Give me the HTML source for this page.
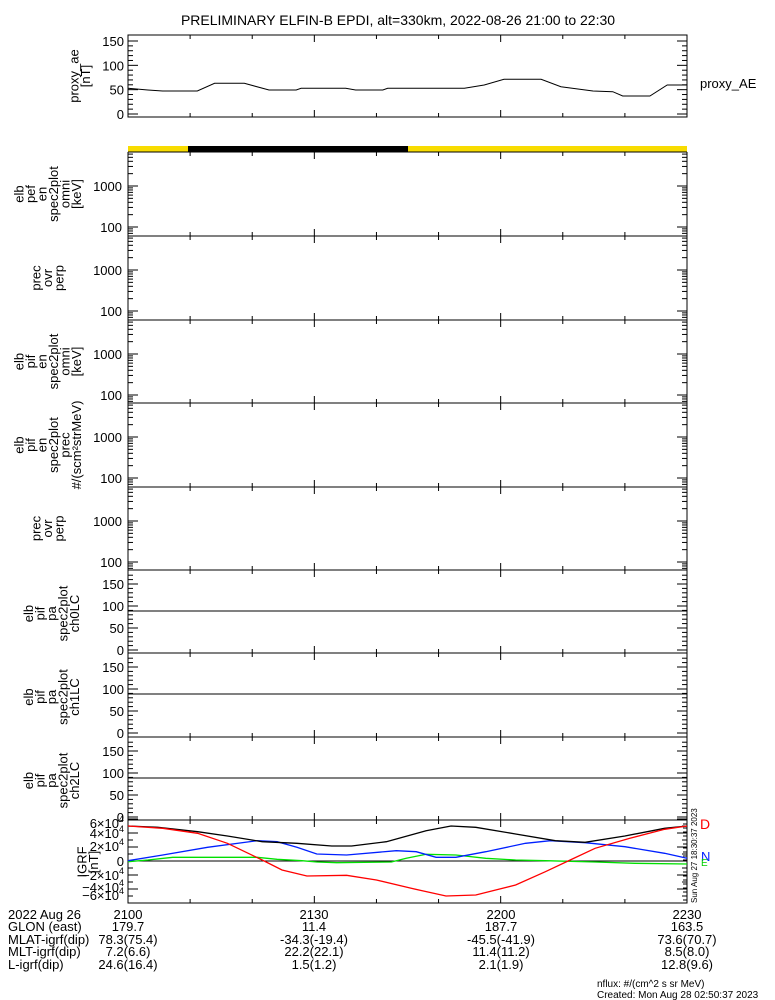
<!DOCTYPE html>
<html><head><meta charset="utf-8"><style>
body{margin:0;background:#fff;width:775px;height:1000px;overflow:hidden}
svg{display:block}
text{font-family:"Liberation Sans",sans-serif;fill:#000}
</style></head><body>
<svg id="s" width="775" height="1000" viewBox="0 0 775 1000" xmlns="http://www.w3.org/2000/svg"></svg>
<script>
const S=document.getElementById('s');let h='';
const L=128,R=687,W=R-L;
function ln(x1,y1,x2,y2,c,w){h+=`<line x1="${x1}" y1="${y1}" x2="${x2}" y2="${y2}" stroke="${c||'#000'}" stroke-width="${w||1}"/>`;}
function tx(x,y,t,sz,anc,extra){h+=`<text x="${x}" y="${y}" font-size="${sz||13}" text-anchor="${anc||'start'}" ${extra||''}>${t}</text>`;}
function box(t,b){h+=`<rect x="${L}" y="${t}" width="${W}" height="${b-t}" fill="none" stroke="#000"/>`;}
function xticks(t,b){for(let i=1;i<9;i++){const x=L+W*i/9;const len=(i%3==0)?7:4;ln(x,b,x,b-len);ln(x,t,x,t+len);}}
function ylab(lines,cx,cy){
  const n=lines.length;const sp=11.5;
  lines.forEach((s,i)=>{const x=cx-(n-1)*sp/2+i*sp+4;h+=`<text x="${x}" y="${cy}" font-size="13" text-anchor="middle" transform="rotate(-90 ${x} ${cy})">${s}</text>`;});
}
tx(398,25,'PRELIMINARY ELFIN-B EPDI, alt=330km, 2022-08-26 21:00 to 22:30',14,'middle');
const T0=35,B0=117;box(T0,B0);
const yv=v=>114-v*73/150;
for(let v=0;v<=150;v+=10){const y=yv(v);const len=v%50==0?10:5;ln(L,y,L+len,y);ln(R,y,R-len,y);}
[0,50,100,150].forEach(v=>tx(124,yv(v)+5,v,13,'end'));
xticks(T0,B0);
ylab(['proxy_ae','[nT]'],80,76);
tx(700,88,'proxy_AE',13);
const ae=[[260,265],[300,270],[330,273],[400,273],[435,250],[495,250],[545,270],[600,270],[610,265],[700,265],[720,270],[775,270],[785,265],[940,265],[980,255],[1020,238],[1095,238],[1135,260],[1200,273],[1240,275],[1260,288],[1315,288],[1350,255],[1390,255]];
h+=`<polyline fill="none" stroke="#000" points="${ae.map(p=>(L+(p[0]-260)/1130*W).toFixed(1)+','+(p[1]/3).toFixed(1)).join(' ')}"/>`;
h+=`<rect x="${L}" y="146" width="${W}" height="6" fill="#f8dc00"/><rect x="188" y="146" width="220" height="6" fill="#000"/>`;
const sp=[152,236,320,403,487,570];
const labs=[['elb','pef','en','spec2plot','omni','[keV]'],['prec','ovr','perp'],['elb','pif','en','spec2plot','omni','[keV]'],['elb','pif','en','spec2plot','prec','#/(scm²strMeV)'],['prec','ovr','perp']];
for(let k=0;k<5;k++){const t=sp[k],b=sp[k+1];ln(L,b,R,b);ln(L,t,L,b);ln(R,t,R,b);
  const y100=t+75,dec=41;
  for(let d=1;d<=4;d++)for(let m=1;m<10;m++){const v=Math.pow(10,d)*m;const y=y100-(Math.log10(v)-2)*dec;if(y<t||y>b)continue;const len=m==1?10:5;ln(L,y,L+len,y);ln(R,y,R-len,y);}
  tx(122,y100+5,'100',13,'end');tx(122,y100-dec+5,'1000',13,'end');
  xticks(t,b);ylab(labs[k],48,(t+b)/2);}
ln(L,152,R,152);
const pg=[570,653,737,820];
for(let k=0;k<3;k++){const t=pg[k],b=pg[k+1];ln(L,t,L,b);ln(R,t,R,b);ln(L,b,R,b);ln(L,t+41,R,t+41);
  for(let v=0;v<=170;v+=10){const y=t+80-v*0.44;if(y<t)continue;const len=v%50==0?10:5;ln(L,y,L+len,y);ln(R,y,R-len,y);}
  [0,50,100,150].forEach(v=>tx(124,t+85-v*0.44,v,13,'end'));
  xticks(t,b);ylab(['elb','pif','pa','spec2plot','ch'+k+'LC'],52,(t+b)/2+2);}
const T=820,B=903;box(T,B);const z=861,s=7;
ln(L,z,R,z);
for(let v=-6;v<=6;v+=1){const y=z-v*s;const len=v%2==0?10:5;ln(L,y,L+len,y);ln(R,y,R-len,y);}
for(let y=T;y<=B;y+=4){ln(R,y,R-4,y);}
[[6,828],[4,838],[2,851],[0,866],[-2,880],[-4,892],[-6,900]].forEach(([v,y])=>{if(v==0)tx(124,y,'0',13,'end');else h+=`<text x="124" y="${y}" font-size="13" text-anchor="end">${v<0?'−':''}${Math.abs(v)}×10<tspan font-size="9" dy="-6">4</tspan></text>`;});
xticks(T,B);ylab(['IGRF','[nT]'],88,862);
function curve(pts,c){h+=`<polyline fill="none" stroke="${c}" stroke-width="1.3" points="${pts.map(p=>(L+(p[0]-260)/1125*W).toFixed(1)+','+(810+p[1]/3).toFixed(1)).join(' ')}"/>`;}
curve([[260,155],[300,150],[350,142],[520,142],[560,148],[610,152],[640,156],[680,158],[790,156],[820,145],[860,133],[920,135],[980,145],[1040,150],[1100,152],[1200,156],[1280,160],[1385,162]],'#00e000');
curve([[260,152],[330,135],[420,112],[520,92],[560,95],[600,112],[640,132],[700,135],[800,122],[840,125],[880,142],[920,142],[980,125],[1060,100],[1110,92],[1180,98],[1260,110],[1340,130],[1385,145]],'#0020ff');
curve([[260,48],[320,52],[400,65],[460,78],[530,95],[600,100],[670,108],[710,108],[780,95],[860,62],[910,48],[960,52],[1040,72],[1120,92],[1180,97],[1260,78],[1340,55],[1385,48]],'#000');
curve([[260,48],[330,55],[400,70],[460,100],[530,150],[570,180],[620,198],[700,196],[760,210],[830,235],[900,258],[960,255],[1040,225],[1100,185],[1150,150],[1200,115],[1270,85],[1340,58],[1385,48]],'#ff0000');
h+=`<text x="697" y="903" font-size="8" transform="rotate(-90 697 903)" font-family="Liberation Mono">Sun Aug 27 18:30:37 2023</text>`;
h+=`<text x="700" y="829" font-size="14" style="fill:#f00" font-family="Liberation Serif">D</text>`;
h+=`<text x="701" y="861" font-size="13" style="fill:#0020ff" font-family="Liberation Serif">N</text>`;
h+=`<text x="701" y="866" font-size="10" style="fill:#00d000" font-family="Liberation Serif">E</text>`;
const rows=[919,931,944,956,969];
tx(8,rows[0],'2022 Aug 26',13);tx(8,rows[1],'GLON (east)',13);tx(8,rows[2],'MLAT-igrf(dip)',13);tx(8,rows[3],'MLT-igrf(dip)',13);tx(8,rows[4],'L-igrf(dip)',13);
const cols=[[128,'2100','179.7','78.3(75.4)','7.2(6.6)','24.6(16.4)'],[314,'2130','11.4','-34.3(-19.4)','22.2(22.1)','1.5(1.2)'],[501,'2200','187.7','-45.5(-41.9)','11.4(11.2)','2.1(1.9)'],[687,'2230','163.5','73.6(70.7)','8.5(8.0)','12.8(9.6)']];
cols.forEach(c=>{for(let i=0;i<5;i++)tx(c[0],rows[i],c[i+1],13,'middle');});
tx(597,987,'nflux: #/(cm^2 s sr MeV)',10);tx(597,998,'Created: Mon Aug 28 02:50:37 2023',10);
S.innerHTML=h;
</script>
</body></html>
